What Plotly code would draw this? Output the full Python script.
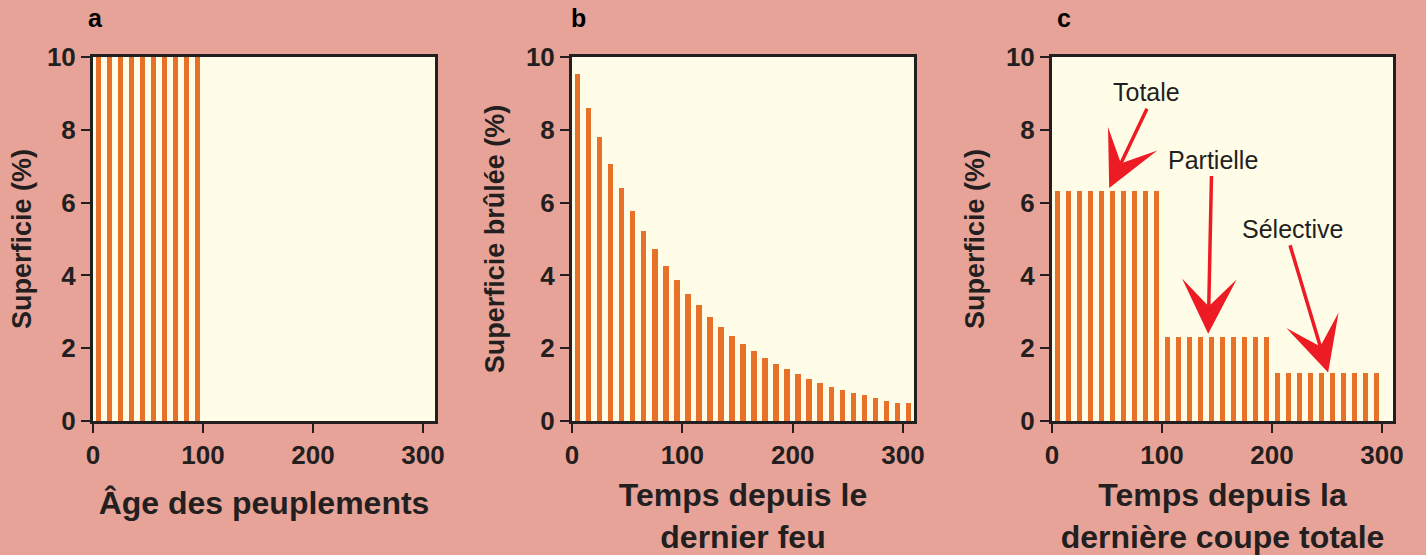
import plotly.graph_objects as go
from plotly.subplots import make_subplots

# ---------------- data ----------------
# Panel a: stand age distribution (%)
ages_a = [5, 15, 25, 35, 45, 55, 65, 75, 85, 95]
area_a = [10, 10, 10, 10, 10, 10, 10, 10, 10, 10]

# Panel b: area burned by time since last fire (%)
times_b = [5, 15, 25, 35, 45, 55, 65, 75, 85, 95, 105, 115, 125, 135, 145, 155,
           165, 175, 185, 195, 205, 215, 225, 235, 245, 255, 265, 275, 285, 295, 305]
burned_b = [9.52, 8.59, 7.80, 7.05, 6.40, 5.76, 5.22, 4.72, 4.25, 3.87, 3.49, 3.18,
            2.85, 2.58, 2.33, 2.11, 1.92, 1.73, 1.56, 1.43, 1.29, 1.15, 1.04, 0.93,
            0.85, 0.77, 0.71, 0.63, 0.55, 0.49, 0.49]

# Panel c: area by time since last clear cut (%)
times_c = [5, 15, 25, 35, 45, 55, 65, 75, 85, 95,
           105, 115, 125, 135, 145, 155, 165, 175, 185, 195,
           205, 215, 225, 235, 245, 255, 265, 275, 285, 295]
area_c = [6.33, 6.33, 6.33, 6.33, 6.33, 6.33, 6.33, 6.33, 6.33, 6.33,
          2.32, 2.32, 2.32, 2.32, 2.32, 2.32, 2.32, 2.32, 2.32, 2.32,
          1.33, 1.33, 1.33, 1.33, 1.33, 1.33, 1.33, 1.33, 1.33, 1.33]

# Arrow labels (panel c): label, text position, arrow tail, arrow tip (data units)
cut_labels = ["Totale", "Partielle", "Sélective"]
label_x = [86, 146, 219]
label_y = [9.04, 7.17, 5.27]
tail_x = [87, 145, 216]
tail_y = [8.62, 6.77, 4.87]
tip_x = [52, 142, 251]
tip_y = [6.40, 2.40, 1.33]

panel_letters = ["a", "b", "c"]
x_titles = ["Âge des peuplements", "Temps depuis le<br>dernier feu",
            "Temps depuis la<br>dernière coupe totale"]
y_titles = ["Superficie (%)", "Superficie brûlée (%)", "Superficie (%)"]
x_ticks = [0, 100, 200, 300]
y_ticks = [0, 2, 4, 6, 8, 10]

# ---------------- style ----------------
BG = "#E8A398"
PLOT_BG = "#FFFDE8"
BAR = "#E8712A"
RED = "#ED1C24"
INK = "#231F20"
FONT = "Liberation Sans, Arial, sans-serif"

fig = make_subplots(rows=1, cols=3)

for col, (xs, ys) in enumerate([(ages_a, area_a), (times_b, burned_b), (times_c, area_c)], start=1):
    fig.add_trace(go.Bar(x=xs, y=ys, width=5, marker=dict(color=BAR, line=dict(width=0)),
                         showlegend=False, hoverinfo="x+y"), row=1, col=col)

x_domains = [[93 / 1426, 435 / 1426], [572 / 1426, 914 / 1426], [1052 / 1426, 1393 / 1426]]
y_domain = [1 - 421 / 555, 1 - 57 / 555]
x_ranges = [[0, 311], [0, 310], [0, 310]]
y_standoffs = [8, 14, 14]

for i in range(3):
    xa = "xaxis" if i == 0 else f"xaxis{i+1}"
    ya = "yaxis" if i == 0 else f"yaxis{i+1}"
    fig.layout[xa].update(
        domain=x_domains[i], range=x_ranges[i], tickvals=x_ticks, automargin=False,
        showline=True, mirror=True, linecolor=INK, linewidth=3,
        ticks="outside", ticklen=9, tickwidth=2, tickcolor=INK,
        showgrid=False, zeroline=False,
        tickfont=dict(family=FONT, size=26, color=INK, weight="bold"),
        title=dict(text=x_titles[i], standoff=23,
                   font=dict(family=FONT, size=32, color=INK, weight="bold")),
    )
    fig.layout[ya].update(
        domain=y_domain, range=[0, 10], tickvals=y_ticks, automargin=False,
        showline=True, mirror=True, linecolor=INK, linewidth=3,
        ticks="outside", ticklen=9, tickwidth=2, tickcolor=INK,
        showgrid=False, zeroline=False,
        tickfont=dict(family=FONT, size=26, color=INK, weight="bold"),
        title=dict(text=y_titles[i], standoff=y_standoffs[i],
                   font=dict(family=FONT, size=27, color=INK, weight="bold")),
    )

annotations = []
letter_x = [95 / 1426, 578 / 1426, 1064 / 1426]
for i, letter in enumerate(panel_letters):
    annotations.append(dict(text=letter, x=letter_x[i], y=1 - 18 / 555, xref="paper", yref="paper",
                            showarrow=False, xanchor="center", yanchor="middle",
                            font=dict(family=FONT, size=25, color="#000000", weight="bold")))

for i, lab in enumerate(cut_labels):
    annotations.append(dict(text=lab, x=label_x[i], y=label_y[i], xref="x3", yref="y3",
                            showarrow=False, xanchor="center", yanchor="middle",
                            font=dict(family=FONT, size=25, color=INK)))
    annotations.append(dict(text="", x=tip_x[i], y=tip_y[i], xref="x3", yref="y3",
                            ax=tail_x[i], ay=tail_y[i], axref="x3", ayref="y3",
                            showarrow=True, arrowhead=3, arrowsize=2.6, arrowwidth=3.5,
                            arrowcolor=RED))

fig.update_layout(
    width=1426, height=555,
    margin=dict(l=0, r=0, t=0, b=0),
    paper_bgcolor=BG, plot_bgcolor=PLOT_BG,
    bargap=0, annotations=annotations,
    font=dict(family=FONT, color=INK),
)

fig.write_html("out.html", config={"displayModeBar": False},
               post_script="document.body.style.margin='0';")
